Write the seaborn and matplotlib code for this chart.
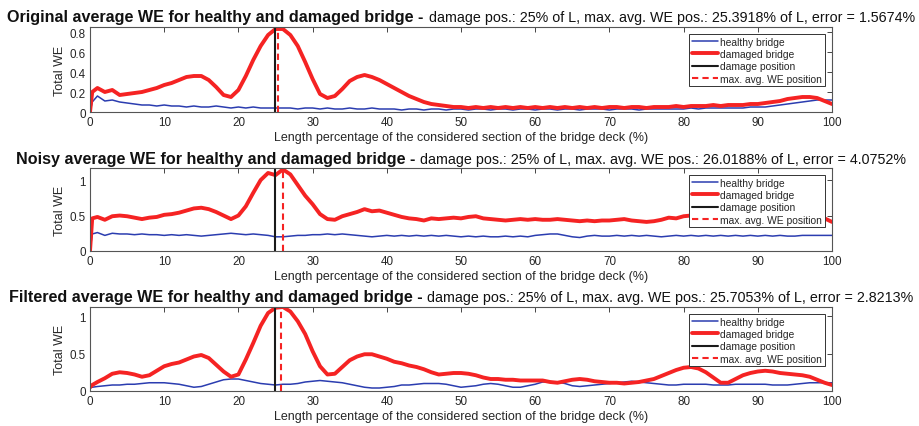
import seaborn as sns
import matplotlib.pyplot as plt
from matplotlib.ticker import FuncFormatter

# ---- data ----
pos = [0, 0.3] + list(range(1, 101))

orig_healthy = [0, 0.10, 0.16, 0.11, 0.12, 0.10, 0.09, 0.08, 0.07, 0.07, 0.06, 0.07,
                0.06, 0.06, 0.05, 0.06, 0.05, 0.05, 0.06, 0.05, 0.04, 0.05, 0.04, 0.05,
                0.04, 0.04, 0.04, 0.04, 0.04, 0.03, 0.04, 0.04, 0.03, 0.04, 0.03, 0.03,
                0.04, 0.03, 0.03, 0.04, 0.03, 0.03, 0.03, 0.02, 0.03, 0.03, 0.02, 0.03,
                0.03, 0.02, 0.03, 0.03, 0.02, 0.03, 0.03, 0.02, 0.03, 0.03, 0.02, 0.03,
                0.03, 0.02, 0.03, 0.03, 0.02, 0.03, 0.03, 0.02, 0.03, 0.03, 0.03, 0.02,
                0.03, 0.03, 0.03, 0.02, 0.03, 0.03, 0.03, 0.03, 0.03, 0.03, 0.04, 0.03,
                0.04, 0.04, 0.04, 0.04, 0.04, 0.04, 0.05, 0.05, 0.05, 0.06, 0.07, 0.08,
                0.09, 0.10, 0.11, 0.12, 0.12, 0.12]
orig_damaged = [0, 0.20, 0.24, 0.20, 0.22, 0.17, 0.18, 0.19, 0.20, 0.22, 0.24, 0.27,
                0.29, 0.32, 0.35, 0.36, 0.36, 0.32, 0.25, 0.17, 0.15, 0.22, 0.36, 0.52,
                0.66, 0.77, 0.83, 0.83, 0.77, 0.66, 0.50, 0.33, 0.18, 0.14, 0.16, 0.23,
                0.31, 0.35, 0.37, 0.35, 0.32, 0.28, 0.24, 0.20, 0.16, 0.13, 0.10, 0.08,
                0.07, 0.06, 0.05, 0.05, 0.04, 0.05, 0.04, 0.05, 0.04, 0.05, 0.04, 0.05,
                0.04, 0.05, 0.04, 0.05, 0.04, 0.05, 0.04, 0.05, 0.04, 0.05, 0.04, 0.05,
                0.05, 0.04, 0.05, 0.05, 0.04, 0.05, 0.05, 0.05, 0.06, 0.05, 0.06, 0.06,
                0.06, 0.07, 0.06, 0.07, 0.07, 0.07, 0.08, 0.08, 0.09, 0.10, 0.11, 0.13,
                0.14, 0.15, 0.15, 0.14, 0.11, 0.08]

noisy_healthy = [0, 0.24, 0.26, 0.22, 0.25, 0.24, 0.24, 0.23, 0.24, 0.23, 0.23, 0.22,
                 0.23, 0.22, 0.23, 0.22, 0.21, 0.22, 0.23, 0.24, 0.25, 0.24, 0.23, 0.24,
                 0.23, 0.22, 0.20, 0.20, 0.21, 0.22, 0.22, 0.23, 0.23, 0.24, 0.23, 0.24,
                 0.23, 0.22, 0.21, 0.20, 0.21, 0.22, 0.21, 0.22, 0.21, 0.22, 0.21, 0.22,
                 0.21, 0.22, 0.21, 0.20, 0.21, 0.20, 0.21, 0.20, 0.20, 0.21, 0.20, 0.21,
                 0.20, 0.22, 0.23, 0.24, 0.24, 0.22, 0.20, 0.19, 0.21, 0.22, 0.21, 0.21,
                 0.22, 0.21, 0.22, 0.21, 0.22, 0.21, 0.20, 0.21, 0.22, 0.21, 0.22, 0.21,
                 0.22, 0.21, 0.22, 0.21, 0.22, 0.21, 0.22, 0.21, 0.22, 0.21, 0.22, 0.21,
                 0.21, 0.22, 0.22, 0.22, 0.22, 0.22]
noisy_damaged = [0, 0.46, 0.48, 0.44, 0.49, 0.50, 0.49, 0.47, 0.45, 0.47, 0.48, 0.51,
                 0.52, 0.54, 0.57, 0.60, 0.61, 0.59, 0.55, 0.50, 0.45, 0.50, 0.63, 0.82,
                 1.00, 1.10, 1.07, 1.15, 1.08, 0.93, 0.78, 0.66, 0.52, 0.45, 0.44, 0.49,
                 0.52, 0.55, 0.59, 0.56, 0.57, 0.54, 0.51, 0.48, 0.46, 0.45, 0.43, 0.46,
                 0.45, 0.46, 0.47, 0.46, 0.48, 0.49, 0.46, 0.45, 0.44, 0.43, 0.44, 0.45,
                 0.44, 0.45, 0.44, 0.44, 0.45, 0.44, 0.43, 0.42, 0.43, 0.42, 0.43, 0.43,
                 0.44, 0.45, 0.43, 0.42, 0.41, 0.42, 0.44, 0.47, 0.46, 0.49, 0.50, 0.48,
                 0.44, 0.40, 0.38, 0.42, 0.45, 0.46, 0.45, 0.46, 0.45, 0.46, 0.47, 0.45,
                 0.46, 0.47, 0.46, 0.45, 0.46, 0.41]

filt_healthy = [0.04, 0.05, 0.06, 0.07, 0.08, 0.08, 0.09, 0.09, 0.10, 0.11, 0.11, 0.11,
                0.10, 0.09, 0.07, 0.05, 0.06, 0.09, 0.12, 0.15, 0.16, 0.16, 0.14, 0.12,
                0.10, 0.09, 0.08, 0.09, 0.09, 0.10, 0.12, 0.13, 0.14, 0.13, 0.12, 0.11,
                0.09, 0.07, 0.05, 0.04, 0.04, 0.05, 0.06, 0.08, 0.08, 0.09, 0.10, 0.10,
                0.10, 0.09, 0.07, 0.05, 0.06, 0.07, 0.09, 0.10, 0.09, 0.07, 0.05, 0.05,
                0.07, 0.09, 0.12, 0.12, 0.12, 0.10, 0.07, 0.06, 0.07, 0.08, 0.09, 0.10,
                0.11, 0.12, 0.13, 0.12, 0.11, 0.10, 0.09, 0.08, 0.08, 0.09, 0.09, 0.09,
                0.09, 0.08, 0.08, 0.08, 0.09, 0.09, 0.09, 0.09, 0.09, 0.08, 0.08, 0.08,
                0.09, 0.10, 0.11, 0.11, 0.11, 0.11]
filt_damaged = [0.05, 0.08, 0.12, 0.17, 0.23, 0.25, 0.24, 0.22, 0.19, 0.21, 0.27, 0.33,
                0.36, 0.38, 0.42, 0.46, 0.48, 0.44, 0.35, 0.26, 0.19, 0.22, 0.42, 0.64,
                0.87, 1.04, 1.11, 1.12, 1.06, 0.93, 0.76, 0.53, 0.33, 0.22, 0.23, 0.32,
                0.41, 0.46, 0.49, 0.49, 0.46, 0.43, 0.39, 0.37, 0.34, 0.32, 0.29, 0.25,
                0.22, 0.23, 0.24, 0.24, 0.23, 0.21, 0.18, 0.16, 0.16, 0.15, 0.15, 0.14,
                0.14, 0.14, 0.14, 0.12, 0.11, 0.13, 0.15, 0.16, 0.15, 0.13, 0.12, 0.11,
                0.11, 0.10, 0.11, 0.12, 0.14, 0.16, 0.20, 0.24, 0.28, 0.31, 0.32, 0.30,
                0.25, 0.18, 0.11, 0.11, 0.16, 0.21, 0.24, 0.26, 0.27, 0.26, 0.24, 0.23,
                0.22, 0.21, 0.19, 0.15, 0.11, 0.08]

damage_pos = 25
max_pos = [25.3918, 26.0188, 25.7053]
errors = ["1.5674", "4.0752", "2.8213"]
kinds = ["Original", "Noisy", "Filtered"]
ylims = [0.85, 1.17, 1.12]
yticks = [[0, 0.2, 0.4, 0.6, 0.8], [0, 0.5, 1], [0, 0.5, 1]]
healthy = [orig_healthy, noisy_healthy, filt_healthy]
damaged = [orig_damaged, noisy_damaged, filt_damaged]

# ---- plot ----
sns.set_style("white")
plt.rcParams['font.family'] = ['Liberation Sans', 'DejaVu Sans']

W, H = 920, 427
fig = plt.figure(figsize=(W / 100, H / 100), dpi=100)
blue = '#2b3db0'
red = '#f52323'

# axes boxes in pixels: (top, bottom)
boxes = [(28, 113), (169, 252), (308, 392)]
left_px, right_px = 90, 832
title_base = [22, 164, 302]

for i in range(3):
    top, bot = boxes[i]
    ax = fig.add_axes([left_px / W, 1 - bot / H, (right_px - left_px) / W, (bot - top) / H])
    sns.lineplot(x=pos, y=healthy[i], color=blue, lw=1.1, ax=ax, label='healthy bridge')
    sns.lineplot(x=pos, y=damaged[i], color=red, lw=2.8, ax=ax, label='damaged bridge')
    ax.axvline(damage_pos, color='#1a1a1a', lw=1.5, label='damage position')
    ax.axvline(max_pos[i], color=red, lw=1.5, ls=(0, (3, 2)), label='max. avg. WE position')
    ax.set_xlim(0, 100)
    ax.set_ylim(0, ylims[i])
    ax.set_xticks(range(0, 101, 10))
    ax.set_yticks(yticks[i])
    ax.yaxis.set_major_formatter(FuncFormatter(lambda v, p: f"{v:g}"))
    ax.tick_params(direction='in', length=3.5, width=0.7, top=True, right=True,
                   labelsize=8.4, colors='#444444', labelcolor='#262626', pad=3)
    for s in ax.spines.values():
        s.set_color('#555555')
        s.set_linewidth(0.8)
    ax.set_xlabel("Length percentage of the considered section of the bridge deck (%)",
                  fontsize=9.0, color='#262626', labelpad=2)
    ax.set_ylabel("Total WE", fontsize=9.0, color='#262626', labelpad=3)
    leg = ax.legend(loc='upper right', fontsize=7.4, frameon=True, fancybox=False,
                    framealpha=1, edgecolor='#333333', handlelength=2.6,
                    handletextpad=0.2, labelspacing=0.22, borderpad=0.25,
                    borderaxespad=0.7)
    leg.get_frame().set_linewidth(0.7)

    # title: bold part + regular part, centred over the axes
    bold = f"{kinds[i]} average WE for healthy and damaged bridge -"
    rest = (f"damage pos.: {damage_pos}% of L, max. avg. WE pos.: {max_pos[i]}% of L, "
            f"error = {errors[i]}%")
    yb = 1 - title_base[i] / H
    t1 = fig.text(0, yb, bold, fontsize=11.6, fontweight='bold', va='baseline', color='#111111')
    t2 = fig.text(0, yb, rest, fontsize=10.3, va='baseline', color='#111111')
    r = fig.canvas.get_renderer()
    w1 = t1.get_window_extent(r).width
    w2 = t2.get_window_extent(r).width
    gap = 5
    x0 = (left_px + right_px) / 2 - (w1 + gap + w2) / 2
    t1.set_x(x0 / W)
    t2.set_x((x0 + w1 + gap) / W)

fig.savefig("out.png", dpi=100)
